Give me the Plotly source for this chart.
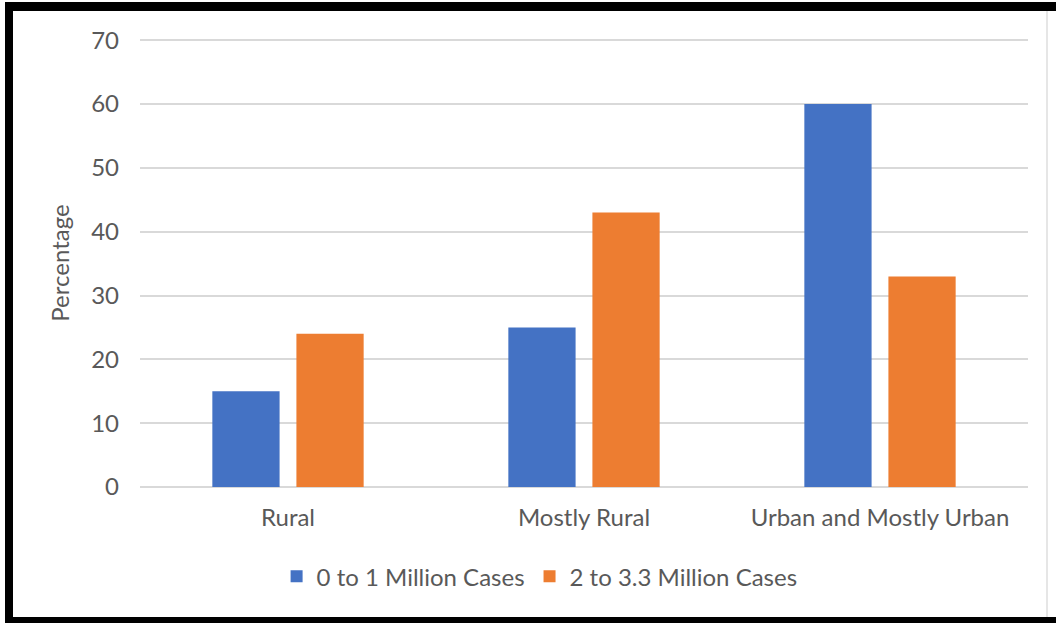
import plotly.graph_objects as go

categories = ["Rural", "Mostly Rural", "Urban and Mostly Urban"]
series_names = ["0 to 1 Million Cases", "2 to 3.3 Million Cases"]
low_cases = [15, 25, 60]
high_cases = [24, 43, 33]
colors = ["#4472C4", "#ED7D31"]
y_ticks = [0, 10, 20, 30, 40, 50, 60, 70]

W, H = 1056, 623
L, R, T, B = 140, 28, 39, 136
pw, ph = W - L - R, H - T - B

def px(x):
    return (x - L) / pw

def py(y):
    return (H - B - y) / ph

fig = go.Figure()
for name, vals, c in zip(series_names, [low_cases, high_cases], colors):
    fig.add_trace(go.Bar(x=categories, y=vals, name=name, marker_color=c,
                         marker_line_width=0))

font = "Lato, Open Sans, sans-serif"
FS = 24
fig.update_layout(
    width=W, height=H,
    margin=dict(l=L, r=R, t=T, b=B),
    paper_bgcolor="white", plot_bgcolor="white",
    barmode="group", bargap=0.432, bargroupgap=0.2,
    font=dict(family=font, size=FS, color="#595959"),
    legend=dict(orientation="h", x=0.45, xanchor="center", y=-0.2, yanchor="middle",
                font=dict(size=FS, color="#595959"), itemwidth=30, traceorder="normal"),
    xaxis=dict(showgrid=False, showline=False, ticks="", tickfont=dict(size=FS),
               ticklabelstandoff=14),
    yaxis=dict(range=[0, 70.2], tickvals=y_ticks, showgrid=True, gridcolor="#D9D9D9",
               gridwidth=1.5, zeroline=True, zerolinecolor="#D9D9D9", zerolinewidth=1.5,
               ticks="", ticklen=0, tickfont=dict(size=FS), ticklabelstandoff=20,
               title=dict(text="Percentage", font=dict(size=FS, color="#595959"), standoff=14)),
)

shapes = []
def rect(x0, y0, x1, y1, color):
    shapes.append(dict(type="rect", xref="paper", yref="paper",
                       x0=px(x0), x1=px(x1), y0=py(y1), y1=py(y0),
                       fillcolor=color, line=dict(width=0), layer="above"))
rect(5, 2, 13, 623, "black")
rect(5, 2, 1056, 11, "black")
rect(5, 617, 1056, 623, "black")
rect(1046, 11, 1048, 617, "#E6E6E6")
fig.update_layout(shapes=shapes)

fig.write_html("out.html", config={"displayModeBar": False},
               post_script="document.body.style.margin='0px';document.body.style.overflow='hidden';")
